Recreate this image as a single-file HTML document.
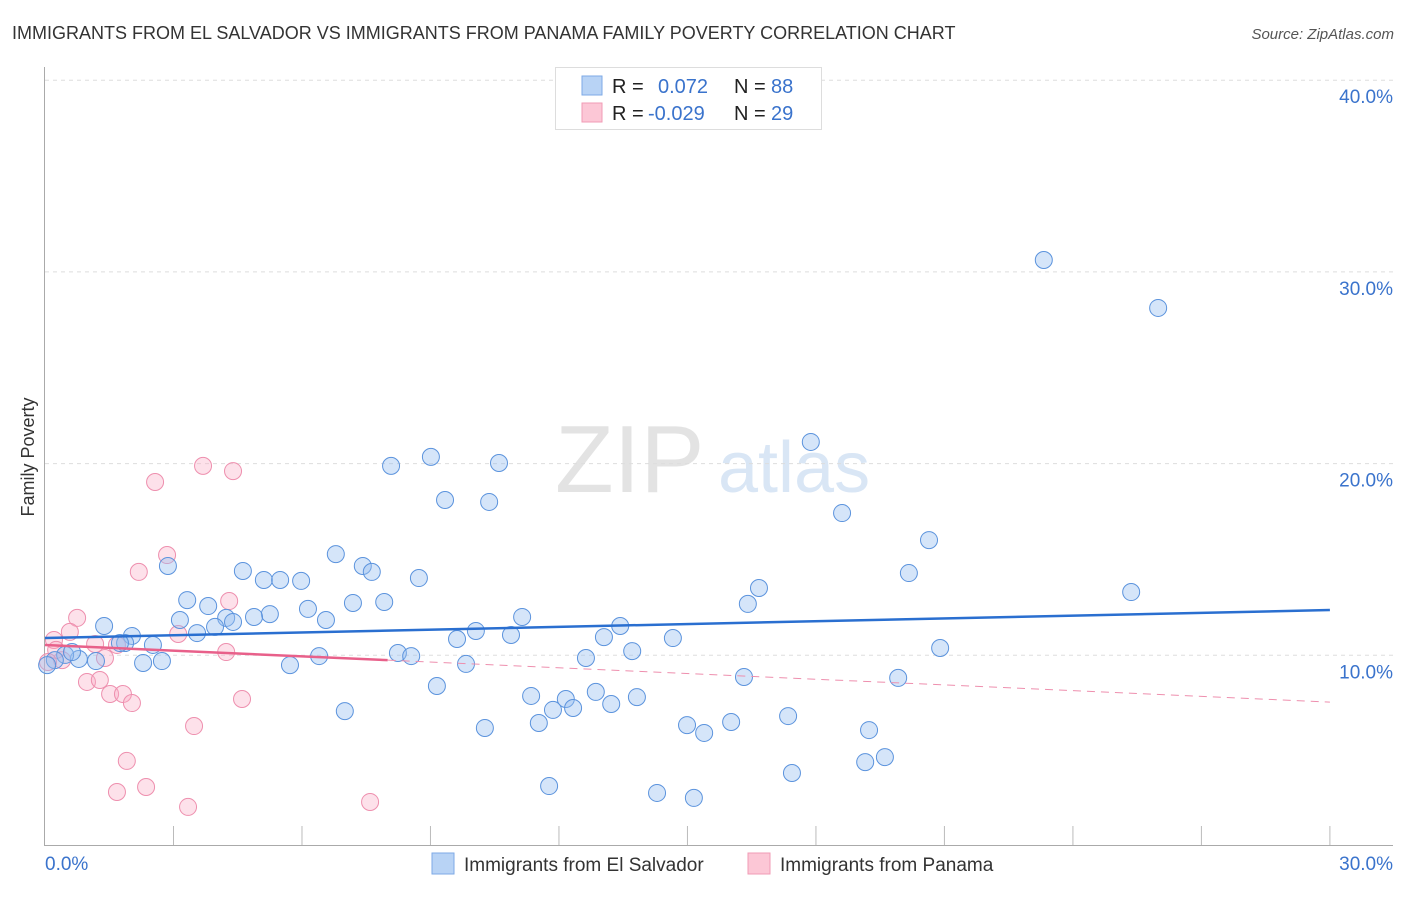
<!DOCTYPE html>
<html><head><meta charset="utf-8"><style>
body{margin:0;background:#fff;font-family:"Liberation Sans",sans-serif;}
svg text{font-family:"Liberation Sans",sans-serif;}
</style></head><body>
<svg id="chart" width="1406" height="892" xmlns="http://www.w3.org/2000/svg">
<text x="12" y="39" font-size="18" fill="#333">IMMIGRANTS FROM EL SALVADOR VS IMMIGRANTS FROM PANAMA FAMILY POVERTY CORRELATION CHART</text>
<text x="1394" y="39" font-size="15" fill="#555" font-style="italic" text-anchor="end">Source: ZipAtlas.com</text>
<text x="555" y="492" font-size="96" fill="#ddd" font-family="Liberation Serif" opacity="0.8">ZIP</text>
<text x="718" y="492" font-size="72" fill="#c9dcf2" opacity="0.7">atlas</text>
<text transform="translate(34,457) rotate(-90)" font-size="18" fill="#333" text-anchor="middle">Family Poverty</text>
<g id="grid"></g><g id="axes"></g><g id="marks"></g>
<g>
<rect x="555.5" y="67.5" width="266" height="62" fill="#fff" stroke="#ddd"/>
<rect x="582" y="76" width="20" height="19" fill="#b8d3f5" stroke="#7ea9e6"/>
<rect x="582" y="103" width="20" height="19" fill="#fcc7d6" stroke="#f19bb5"/>
<text x="612" y="93" font-size="20" fill="#222">R =</text>
<text x="658" y="93" font-size="20" fill="#3a73cc">0.072</text>
<text x="734" y="93" font-size="20" fill="#222">N =</text>
<text x="771" y="93" font-size="20" fill="#3a73cc">88</text>
<text x="612" y="120" font-size="20" fill="#222">R =</text>
<text x="648" y="120" font-size="20" fill="#3a73cc">-0.029</text>
<text x="734" y="120" font-size="20" fill="#222">N =</text>
<text x="771" y="120" font-size="20" fill="#3a73cc">29</text>
</g>
<g>
<rect x="432" y="853" width="22" height="21" fill="#b8d3f5" stroke="#7ea9e6"/>
<text x="464" y="871" font-size="19" fill="#333">Immigrants from El Salvador</text>
<rect x="748" y="853" width="22" height="21" fill="#fcc7d6" stroke="#f19bb5"/>
<text x="780" y="871" font-size="19" fill="#333">Immigrants from Panama</text>
</g>
</svg>
<script>
const blueX=[23.32,25.99,17.88,9.01,8.08,10.60,9.34,10.37,18.61,20.64,6.79,2.87,7.42,7.63,4.62,5.11,5.49,5.98,8.73,20.17,16.67,25.36,3.32,3.81,7.19,7.92,16.41,6.14,5.25,4.88,3.15,4.23,4.39,6.56,11.14,13.43,10.06,3.97,3.55,1.38,2.03,1.87,2.52,9.62,10.88,13.05,14.66,8.24,8.55,13.71,20.90,12.63,9.83,5.72,6.40,2.29,2.73,1.19,0.79,0.47,0.23,0.05,9.15,16.32,19.92,11.35,12.86,13.82,12.16,11.86,12.33,13.22,7.00,17.35,11.53,10.27,14.99,16.02,15.39,19.24,19.61,19.15,17.44,11.77,14.29,15.15,1.75,0.63];
const blueY=[30.62,28.12,21.13,20.35,19.88,20.03,18.10,18.00,17.42,16.01,15.28,14.66,14.66,14.35,14.40,13.93,13.93,13.88,14.03,14.29,13.51,13.30,12.88,12.57,12.73,12.78,12.68,12.42,12.15,12.00,11.84,11.95,11.74,11.84,12.00,11.53,11.27,11.48,11.16,11.53,11.01,10.64,10.54,10.85,11.06,10.95,10.90,10.12,9.96,10.22,10.38,9.86,9.55,9.49,9.96,9.60,9.70,9.70,9.81,10.02,9.75,9.49,8.40,8.87,8.82,7.88,8.09,7.82,7.72,7.15,7.25,7.46,7.09,6.83,6.47,6.21,6.36,6.52,5.95,6.10,4.69,4.43,3.86,3.18,2.82,2.56,10.64,10.17];
const pinkX=[2.57,3.69,4.39,2.85,2.19,4.30,0.75,0.58,0.21,3.11,1.68,1.17,4.23,0.40,1.40,0.98,1.28,1.52,1.82,2.03,4.60,3.48,1.91,2.36,1.68,3.34,7.59,0.26,0.07];
const pinkY=[19.04,19.88,19.61,15.23,14.35,12.83,11.95,11.22,10.80,11.11,10.54,10.59,10.17,9.75,9.86,8.61,8.71,7.98,7.98,7.51,7.72,6.31,4.49,3.13,2.87,2.09,2.35,10.28,9.65];
const yTicks=[10,20,30,40];
const yTickLabels=["10.0%","20.0%","30.0%","40.0%"];
const xTicks=[0,3,6,9,12,15,18,21,24,27,30];
const blueTrend=[10.90,12.36];
const pinkTrend=[10.54,7.56];
const pinkSolidEnd=8.0;

const X=v=>45+v*42.83, Y=v=>847-v*19.17;
const NS='http://www.w3.org/2000/svg';
function mk(tag,attrs,parent){const e=document.createElementNS(NS,tag);for(const k in attrs)e.setAttribute(k,attrs[k]);document.getElementById(parent).appendChild(e);return e;}
yTicks.forEach((t,i)=>{
 const l=mk('line',{x1:45,x2:1393,y1:Y(t),y2:Y(t),stroke:'#ddd','stroke-dasharray':'4,4'},'grid');
 
 
 const tx=mk('text',{x:1393,y:Y(t)+23,'font-size':19,fill:'#3a73cc','text-anchor':'end'},'grid');
 tx.textContent=yTickLabels[i];
 
 
});
let a=mk('line',{x1:44.5,x2:44.5,y1:67,y2:845,stroke:'#aaa'},'axes');


a=mk('line',{x1:44,x2:1393,y1:845.5,y2:845.5,stroke:'#aaa'},'axes');


xTicks.slice(1).forEach(t=>{
 const l=mk('line',{x1:X(t),x2:X(t),y1:826,y2:845,stroke:'#bbb'},'axes');
 
 
});
let t0=mk('text',{x:45,y:870,'font-size':19,fill:'#3a73cc'},'axes');t0.textContent='0.0%';


let t1=mk('text',{x:1393,y:870,'font-size':19,fill:'#3a73cc','text-anchor':'end'},'axes');t1.textContent='30.0%';



pinkX.forEach((x,i)=>{
 const c=mk('circle',{cx:X(x),cy:Y(pinkY[i]),r:8.5,fill:'rgba(248,170,195,0.35)',stroke:'#ee8fae','stroke-width':1},'marks');
 
 
});
blueX.forEach((x,i)=>{
 const c=mk('circle',{cx:X(x),cy:Y(blueY[i]),r:8.5,fill:'rgba(150,190,240,0.4)',stroke:'#5b93dd','stroke-width':1},'marks');
 
 
});
let bl=mk('line',{x1:X(0),y1:Y(blueTrend[0]),x2:X(30),y2:Y(blueTrend[1]),stroke:'#2a6fd0','stroke-width':2.5},'marks');


const py=x=>pinkTrend[0]+(pinkTrend[1]-pinkTrend[0])*x/30;
let pl=mk('line',{x1:X(0),y1:Y(py(0)),x2:X(pinkSolidEnd),y2:Y(py(pinkSolidEnd)),stroke:'#e8608a','stroke-width':2.5},'marks');


let pd=mk('line',{x1:X(pinkSolidEnd),y1:Y(py(pinkSolidEnd)),x2:X(30),y2:Y(py(30)),stroke:'#ee8fae','stroke-width':1,'stroke-dasharray':'8,6'},'marks');


</script>
</body></html>
